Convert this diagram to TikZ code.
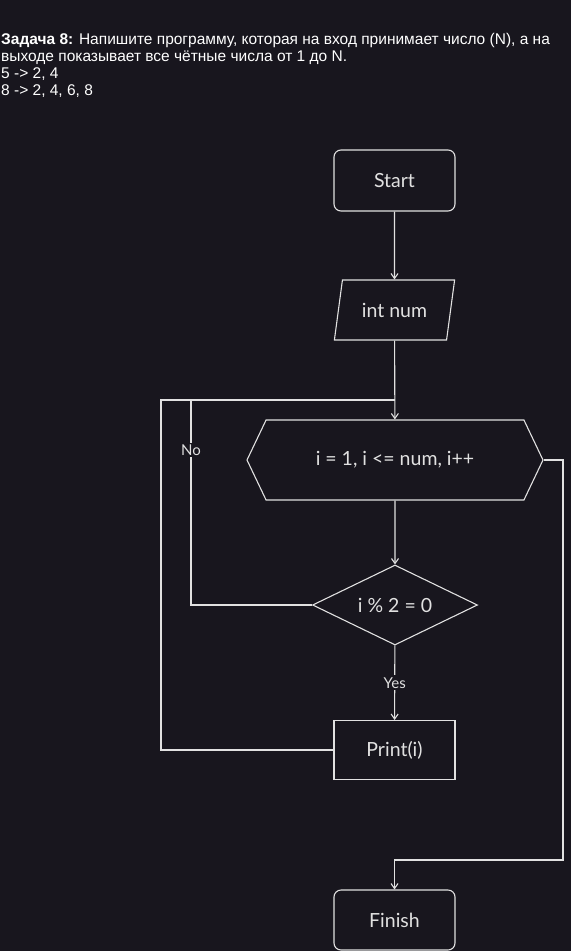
\documentclass[tikz,border=0pt]{standalone}
\usepackage{fontspec}
\setmainfont{Liberation Sans}
\newfontfamily\sketchfont{Lato}
\usetikzlibrary{shapes.geometric,shapes.symbols,arrows.meta}
\definecolor{bgc}{RGB}{24,22,30}
\definecolor{ink}{RGB}{225,225,225}
\tikzset{
  box/.style={draw=ink, line width=1.1pt, text=ink, font=\sketchfont\fontsize{19.5}{22}\selectfont, inner sep=0pt},
  conn/.style={draw=ink, line width=1.1pt},
  arr/.style={conn, -{Straight Barb[length=5pt,width=7pt]}},
  lbl/.style={fill=bgc, text=ink, font=\sketchfont\fontsize{15}{17}\selectfont, inner sep=2pt}
}
\begin{document}
\begin{tikzpicture}[x=1pt,y=-1pt]
\fill[bgc] (0,0) rectangle (571,951);
\useasboundingbox (0,0) rectangle (571,951);
\node[anchor=north west, align=left, text=white, inner sep=0pt, font=\fontsize{15.5}{17}\selectfont] (title) at (1,33)
  {\textbf{Задача 8:} Напишите программу, которая на вход принимает число (N), а на\\
   выходе показывает все чётные числа от 1 до N.\\
   5 -> 2, 4\\
   8 -> 2, 4, 6, 8};
\node[box, rectangle, rounded corners=7pt, minimum width=121, minimum height=61] (start) at (394.5,180.5) {Start};
\node[box, trapezium, trapezium left angle=70.7, trapezium right angle=109.3, trapezium stretches=true, minimum width=121, minimum height=60] (input) at (394.5,310) {int num};
\node[box, signal, signal to=east and west, signal pointer angle=129, minimum width=296, minimum height=80] (loop) at (395,460) {i = 1, i <= num, i++};
\node[box, diamond, minimum width=165, minimum height=80, aspect=2.06] (cond) at (395,605) {i \% 2 = 0};
\node[box, rectangle, minimum width=121, minimum height=59] (print) at (394.5,750) {Print(i)};
\node[box, rectangle, rounded corners=7pt, minimum width=121, minimum height=60] (finish) at (394.5,920) {Finish};
\coordinate (top) at (395,400);
\coordinate (nocorner) at (191,400);
\coordinate (outer) at (161,400);
\coordinate (rcorner) at (563,860);
\draw[arr] (start) -- (input);
\draw[arr] (input) -- (loop);
\draw[arr] (loop) -- (cond);
\draw[arr] (cond) -- node[lbl] (yes) {Yes} (print);
\draw[conn] (cond.west) -| (nocorner) -- (top);
\node[lbl] (no) at (191,450) {No};
\draw[conn] (print.west) -| (outer) -- (nocorner);
\draw[arr] (loop.east) -| (rcorner) -| (finish.north);
\end{tikzpicture}
\end{document}
